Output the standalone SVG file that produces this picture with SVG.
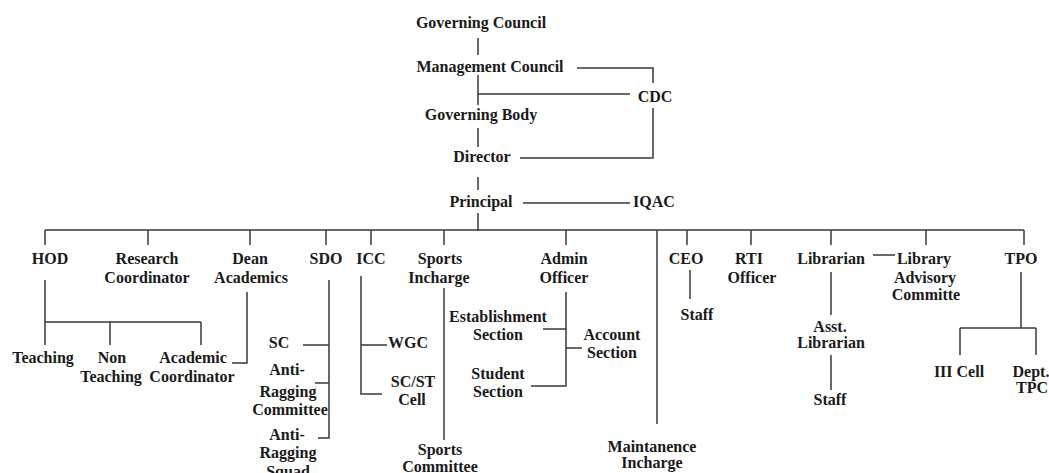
<svg xmlns="http://www.w3.org/2000/svg" width="1049" height="473" viewBox="0 0 1049 473">
<style>
text{font-family:"Liberation Serif","Times New Roman",serif;font-weight:bold;font-size:16px;fill:#1a1a1a;text-anchor:middle}
.c path{fill:none;stroke:#3a3a3a;stroke-width:1.5}
</style>
<rect width="1049" height="473" fill="#fff"/>
<g class="c" id="connectors">
<path d="M478 38V55M478 75V105M478 94H630M478 128V147M478 177V190M478 213V231"/>
<path d="M577 68H653V83M520 158H653V108"/>
<path d="M523 203H630"/>
<path d="M45 230H1024M45 230V245M148 230V245M250 230V245M326 230V245M371 230V245M444 230V245M566 230V245M687 230V245M751 230V245M831 230V245M926 230V245M1024 230V245"/>
<path d="M45 280V345M45 322H201M110 322V345M201 322V345"/>
<path d="M247 292V363H232"/>
<path d="M329 280V438H318M303 345H329M315 383H329"/>
<path d="M361 276V394H382M361 345H387"/>
<path d="M444 288V440"/>
<path d="M566 292V386H531M543 329H566M566 348H582"/>
<path d="M657 230V424"/>
<path d="M690 270V299"/>
<path d="M831 272V315M831 355V390M873 255H895"/>
<path d="M1021 272V328M960 328H1036M960 328V355M1036 328V355"/>
</g>
<g id="governing-council"><text x="481" y="28">Governing Council</text></g>
<g id="management-council"><text x="490" y="72">Management Council</text></g>
<g id="cdc"><text x="655" y="102">CDC</text></g>
<g id="governing-body"><text x="481" y="120">Governing Body</text></g>
<g id="director"><text x="482" y="162">Director</text></g>
<g id="principal"><text x="481" y="207">Principal</text></g>
<g id="iqac"><text x="654" y="207">IQAC</text></g>
<g id="hod"><text x="50" y="264">HOD</text></g>
<g id="research"><text x="147" y="264">Research</text><text x="147" y="283">Coordinator</text></g>
<g id="dean"><text x="250" y="264">Dean</text><text x="251" y="283">Academics</text></g>
<g id="sdo"><text x="326" y="264">SDO</text></g>
<g id="icc"><text x="371" y="264">ICC</text></g>
<g id="sports-incharge"><text x="440" y="264">Sports</text><text x="439" y="283">Incharge</text></g>
<g id="admin"><text x="564" y="264">Admin</text><text x="564" y="283">Officer</text></g>
<g id="ceo"><text x="686" y="264">CEO</text></g>
<g id="rti"><text x="749" y="264">RTI</text><text x="752" y="283">Officer</text></g>
<g id="librarian"><text x="831" y="264">Librarian</text></g>
<g id="library-advisory"><text x="924" y="264">Library</text><text x="925" y="283">Advisory</text><text x="926" y="300">Committe</text></g>
<g id="tpo"><text x="1021" y="264">TPO</text></g>
<g id="teaching"><text x="43" y="363">Teaching</text></g>
<g id="non-teaching"><text x="112" y="363">Non</text><text x="111" y="382">Teaching</text></g>
<g id="academic-coordinator"><text x="193" y="363">Academic</text><text x="192" y="382">Coordinator</text></g>
<g id="sc"><text x="279" y="348">SC</text></g>
<g id="anti-ragging-committee"><text x="287" y="375">Anti-</text><text x="288" y="397">Ragging</text><text x="290" y="415">Committee</text></g>
<g id="anti-ragging-squad"><text x="287" y="440">Anti-</text><text x="288" y="458">Ragging</text><text x="288" y="477">Squad</text></g>
<g id="wgc"><text x="408" y="348">WGC</text></g>
<g id="scst"><text x="413" y="387">SC/ST</text><text x="412" y="405">Cell</text></g>
<g id="sports-committee"><text x="440" y="455">Sports</text><text x="440" y="472">Committee</text></g>
<g id="establishment"><text x="498" y="322">Establishment</text><text x="498" y="340">Section</text></g>
<g id="account"><text x="612" y="340">Account</text><text x="612" y="358">Section</text></g>
<g id="student"><text x="498" y="379">Student</text><text x="498" y="397">Section</text></g>
<g id="maintenance"><text x="652" y="452">Maintanence</text><text x="652" y="468">Incharge</text></g>
<g id="ceo-staff"><text x="697" y="320">Staff</text></g>
<g id="asst-librarian"><text x="830" y="332">Asst.</text><text x="831" y="348">Librarian</text></g>
<g id="lib-staff"><text x="830" y="405">Staff</text></g>
<g id="iii-cell"><text x="959" y="377">III Cell</text></g>
<g id="dept-tpc"><text x="1031" y="377">Dept.</text><text x="1032" y="393">TPC</text></g>
</svg>
